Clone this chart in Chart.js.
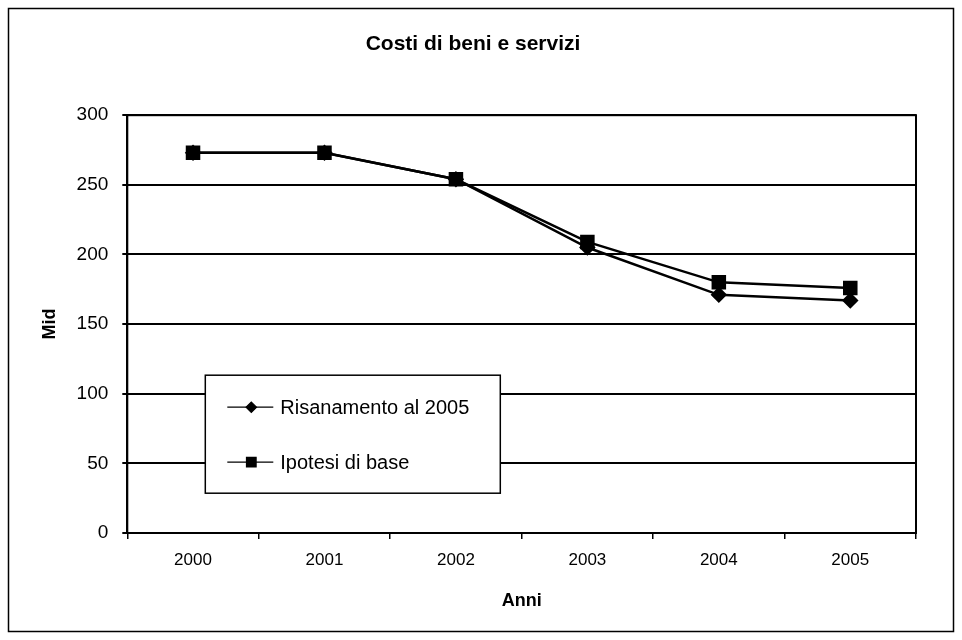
<!DOCTYPE html>
<html>
<head>
<meta charset="utf-8">
<script src="https://cdn.jsdelivr.net/npm/chart.js@4/dist/chart.umd.min.js"></script>
<style>
    html, body { margin: 0; padding: 0; background: #fff; }
    #wrap { position: relative; width: 962px; height: 640px; }
</style>
</head>
<body>
<div id="wrap"><canvas id="grafico"></canvas></div>
<script>
const anni = ["2000", "2001", "2002", "2003", "2004", "2005"];
const risanamento = [273, 273, 254, 205, 171, 167];
const ipotesiBase = [273, 273, 254, 209, 180, 176];
const tickValori = [0, 50, 100, 150, 200, 250, 300];

const fontBase = "'Liberation Sans', Arial, sans-serif";

// bordo esterno + bordo area grafico
const bordi = {
    id: 'bordi',
    afterDraw(chart) {
        const ctx = chart.ctx;
        const a = chart.chartArea;
        ctx.save();
        ctx.strokeStyle = '#000';
        ctx.lineWidth = 1.5;
        ctx.strokeRect(8.5, 8.5, chart.width - 17, chart.height - 17);
        ctx.lineWidth = 2;
        ctx.strokeRect(a.left, a.top, a.right - a.left, a.bottom - a.top);
        ctx.restore();
    }
};

// legenda dentro l'area del grafico, come in Excel
const legendaInterna = {
    id: 'legendaInterna',
    afterDraw(chart) {
        const ctx = chart.ctx;
        const a = chart.chartArea;
        const x = a.left + 78, y = a.top + 260, w = 295, h = 118;
        ctx.save();
        ctx.fillStyle = '#fff';
        ctx.fillRect(x, y, w, h);
        ctx.strokeStyle = '#000';
        ctx.lineWidth = 1.5;
        ctx.strokeRect(x, y, w, h);
        chart.data.datasets.forEach(function (ds, i) {
            const cy = y + 32 + i * 55;
            ctx.strokeStyle = '#000';
            ctx.lineWidth = 1.2;
            ctx.beginPath();
            ctx.moveTo(x + 22, cy);
            ctx.lineTo(x + 68, cy);
            ctx.stroke();
            ctx.fillStyle = '#000';
            Chart.helpers.drawPoint(ctx, {
                pointStyle: ds.pointStyle,
                radius: ds.pointRadius * 0.8,
                borderWidth: 1
            }, x + 46, cy);
            ctx.fillStyle = '#000';
            ctx.font = "20px " + fontBase;
            ctx.textBaseline = 'middle';
            ctx.fillText(ds.label, x + 75, cy + 1);
        });
        ctx.restore();
    }
};

new Chart(document.getElementById('grafico'), {
    type: 'line',
    plugins: [bordi, legendaInterna],
    data: {
        labels: anni,
        datasets: [
            {
                label: 'Risanamento al 2005',
                data: risanamento,
                borderColor: '#000',
                backgroundColor: '#000',
                borderWidth: 2.5,
                pointStyle: 'rectRot',
                pointRadius: 6.5,
                pointHoverRadius: 6.5,
                tension: 0
            },
            {
                label: 'Ipotesi di base',
                data: ipotesiBase,
                borderColor: '#000',
                backgroundColor: '#000',
                borderWidth: 2.5,
                pointStyle: 'rect',
                pointRadius: 8.5,
                pointHoverRadius: 8.5,
                tension: 0
            }
        ]
    },
    options: {
        responsive: true,
        maintainAspectRatio: false,
        animation: false,
        layout: {
            padding: { left: 30, right: 46, top: 22, bottom: 24 }
        },
        plugins: {
            legend: { display: false },
            tooltip: { enabled: false },
            title: {
                display: true,
                text: 'Costi di beni e servizi',
                color: '#000',
                font: { family: fontBase, size: 21, weight: 'bold' },
                padding: { top: 10, bottom: 58 }
            }
        },
        scales: {
            x: {
                offset: true,
                grid: {
                    offset: true,
                    drawOnChartArea: false,
                    drawTicks: true,
                    tickLength: 6,
                    color: '#000',
                    lineWidth: 1.5
                },
                border: { display: true, color: '#000', width: 2 },
                ticks: {
                    color: '#000',
                    padding: 11,
                    font: { family: fontBase, size: 17 }
                },
                title: {
                    display: true,
                    text: 'Anni',
                    color: '#000',
                    font: { family: fontBase, size: 18, weight: 'bold' },
                    padding: { top: 9, bottom: 4 }
                }
            },
            y: {
                min: 0,
                max: 300,
                afterBuildTicks: function (scale) {
                    scale.ticks = tickValori.map(function (v) { return { value: v }; });
                },
                grid: {
                    color: '#000',
                    lineWidth: 2,
                    drawTicks: true,
                    tickLength: 5
                },
                border: { display: true, color: '#000', width: 2 },
                ticks: {
                    color: '#000',
                    padding: 14,
                    font: { family: fontBase, size: 19 }
                },
                title: {
                    display: true,
                    text: 'Mid',
                    color: '#000',
                    font: { family: fontBase, size: 18, weight: 'bold' },
                    padding: { top: 9, bottom: 2 }
                }
            }
        }
    }
});
</script>
</body>
</html>
